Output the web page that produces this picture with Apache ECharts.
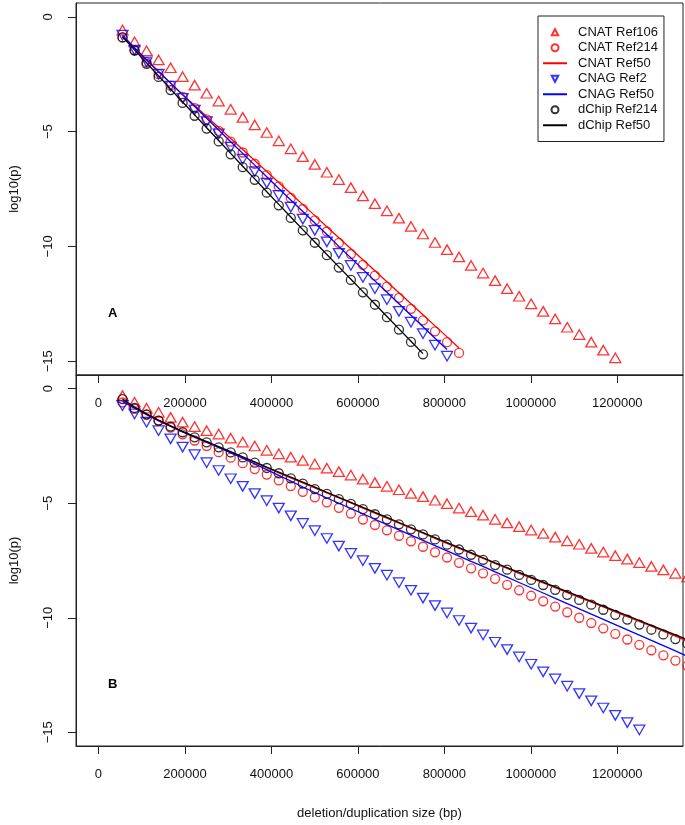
<!DOCTYPE html>
<html><head><meta charset="utf-8">
<script src="https://cdn.jsdelivr.net/npm/echarts@6/dist/echarts.min.js"></script>
<style>html,body{margin:0;padding:0;background:#fff}#c{width:685px;height:825px}</style>
</head><body><div id="c"></div><script>
// deletion/duplication sizes (bp)
const sizes = [55600, 83400, 111200, 139000, 166800, 194600, 222400, 250200, 278000, 305800,
  333600, 361400, 389200, 417000, 444800, 472600, 500400, 528200, 556000, 583800,
  611600, 639400, 667200, 695000, 722800, 750600, 778400, 806200, 834000, 861800,
  889600, 917400, 945200, 973000, 1000800, 1028600, 1056400, 1084200, 1112000, 1139800,
  1167600, 1195400, 1223200, 1251000, 1278800, 1306600, 1334400, 1362200];

const legendNames = ['CNAT Ref106', 'CNAT Ref214', 'CNAT Ref50', 'CNAG Ref2', 'CNAG Ref50', 'dChip Ref214', 'dChip Ref50'];
const xTicks = [0, 200000, 400000, 600000, 800000, 1000000, 1200000];
const yTicks = [0, -5, -10, -15];
const xTitle = 'deletion/duplication size (bp)';
const yTitle = 'log10(p)';
const panelLabels = ['A', 'B'];

// Panel A: log10(p)
const A_cnat106 = [-0.58,-1.09,-1.48,-1.88,-2.22,-2.61,-2.98,-3.33,-3.67,-4.03,-4.38,-4.71,-5.04,-5.4,-5.75,-6.09,-6.43,-6.77,-7.09,-7.44,-7.8,-8.14,-8.45,-8.77,-9.13,-9.46,-9.83,-10.14,-10.46,-10.83,-11.16,-11.49,-11.84,-12.17,-12.5,-12.83,-13.16,-13.52,-13.84,-14.17,-14.52,-14.85];
const A_cnat214 = [-0.9,-1.45,-1.98,-2.5,-3.0,-3.49,-3.98,-4.47,-4.97,-5.44,-5.91,-6.4,-6.9,-7.39,-7.89,-8.37,-8.87,-9.35,-9.85,-10.33,-10.8,-11.27,-11.75,-12.24,-12.72,-13.22,-13.7,-14.17,-14.64];
const A_cnat50 = [-0.85,-1.4,-1.9,-2.4,-2.89,-3.38,-3.86,-4.34,-4.82,-5.3,-5.78,-6.26,-6.74,-7.22,-7.7,-8.18,-8.66,-9.14,-9.62,-10.1,-10.58,-11.06,-11.54,-12.02,-12.5,-12.98,-13.46,-13.94,-14.42];
const A_cnag2 = [-0.8,-1.45,-1.96,-2.5,-3.02,-3.55,-4.06,-4.57,-5.1,-5.68,-6.2,-6.74,-7.24,-7.78,-8.29,-8.81,-9.3,-9.8,-10.3,-10.83,-11.35,-11.84,-12.32,-12.83,-13.3,-13.8,-14.3,-14.78];
const A_cnag50 = [-0.8,-1.35,-1.87,-2.38,-2.89,-3.4,-3.91,-4.42,-4.93,-5.44,-5.95,-6.46,-6.97,-7.48,-7.98,-8.48,-8.98,-9.48,-10.0,-10.5,-11.0,-11.5,-12.0,-12.5,-13.0,-13.5,-14.0,-14.49];
const A_dchip214 = [-0.9,-1.47,-2.05,-2.62,-3.19,-3.75,-4.31,-4.87,-5.43,-5.99,-6.55,-7.1,-7.66,-8.21,-8.76,-9.3,-9.84,-10.38,-10.92,-11.46,-12.0,-12.54,-13.08,-13.62,-14.16,-14.7];
const A_dchip50 = [-0.87,-1.44,-2.01,-2.58,-3.15,-3.71,-4.27,-4.83,-5.39,-5.95,-6.51,-7.06,-7.62,-8.17,-8.72,-9.27,-9.81,-10.35,-10.89,-11.43,-11.97,-12.51,-13.05,-13.59,-14.13,-14.67];

// Panel B: log10(p)
const B_cnat106 = [-0.3,-0.59,-0.85,-1.03,-1.25,-1.46,-1.65,-1.83,-1.98,-2.16,-2.33,-2.5,-2.69,-2.84,-2.99,-3.13,-3.29,-3.47,-3.62,-3.77,-3.95,-4.1,-4.26,-4.41,-4.57,-4.71,-4.87,-5.02,-5.21,-5.37,-5.52,-5.7,-5.86,-6.02,-6.17,-6.32,-6.48,-6.64,-6.79,-6.97,-7.13,-7.29,-7.44,-7.59,-7.76,-7.91,-8.06,-8.22];
const B_cnat214 = [-0.6,-0.88,-1.12,-1.39,-1.7,-1.99,-2.26,-2.5,-2.77,-3.01,-3.25,-3.51,-3.75,-4.0,-4.25,-4.5,-4.74,-4.96,-5.2,-5.45,-5.71,-5.95,-6.18,-6.42,-6.66,-6.9,-7.14,-7.37,-7.6,-7.84,-8.06,-8.3,-8.56,-8.8,-9.04,-9.28,-9.51,-9.76,-10.0,-10.23,-10.46,-10.7,-10.95,-11.18,-11.42,-11.64,-11.87,-12.1];
const B_cnat50 = [-0.5,-0.83,-1.13,-1.4,-1.65,-1.89,-2.12,-2.34,-2.56,-2.78,-3.0,-3.22,-3.45,-3.67,-3.89,-4.11,-4.33,-4.55,-4.77,-4.99,-5.21,-5.43,-5.65,-5.87,-6.09,-6.31,-6.53,-6.75,-6.97,-7.19,-7.41,-7.63,-7.85,-8.06,-8.27,-8.48,-8.69,-8.9,-9.11,-9.32,-9.53,-9.74,-9.95,-10.16,-10.37,-10.58,-10.8,-11.02];
const B_cnag2 = [-0.74,-1.1,-1.46,-1.83,-2.19,-2.55,-2.88,-3.23,-3.57,-3.93,-4.26,-4.58,-4.89,-5.21,-5.55,-5.88,-6.2,-6.54,-6.87,-7.19,-7.51,-7.84,-8.14,-8.47,-8.8,-9.14,-9.47,-9.79,-10.12,-10.45,-10.75,-11.07,-11.39,-11.71,-12.03,-12.36,-12.67,-12.99,-13.31,-13.63,-13.94,-14.26,-14.58,-14.9];
const B_cnag50 = [-0.55,-0.85,-1.12,-1.38,-1.63,-1.88,-2.1,-2.33,-2.56,-2.8,-3.03,-3.28,-3.53,-3.78,-4.03,-4.29,-4.53,-4.77,-5.0,-5.23,-5.46,-5.7,-5.93,-6.16,-6.39,-6.62,-6.85,-7.08,-7.31,-7.54,-7.76,-8.0,-8.23,-8.46,-8.69,-8.92,-9.15,-9.38,-9.61,-9.84,-10.07,-10.3,-10.53,-10.76,-10.99,-11.22,-11.45,-11.68];
const B_dchip214 = [-0.45,-0.84,-1.13,-1.39,-1.65,-1.9,-2.12,-2.34,-2.56,-2.78,-3.0,-3.23,-3.46,-3.69,-3.91,-4.14,-4.38,-4.59,-4.82,-5.03,-5.26,-5.48,-5.7,-5.92,-6.14,-6.36,-6.58,-6.81,-7.02,-7.25,-7.47,-7.7,-7.9,-8.13,-8.35,-8.57,-8.78,-9.0,-9.22,-9.43,-9.65,-9.87,-10.08,-10.3,-10.52,-10.73,-10.93,-11.13];
const B_dchip50 = [-0.45,-0.8,-1.1,-1.37,-1.62,-1.86,-2.09,-2.31,-2.53,-2.75,-2.97,-3.19,-3.42,-3.64,-3.86,-4.08,-4.3,-4.52,-4.74,-4.96,-5.18,-5.4,-5.62,-5.84,-6.06,-6.28,-6.5,-6.72,-6.94,-7.16,-7.38,-7.6,-7.81,-8.02,-8.23,-8.44,-8.65,-8.86,-9.07,-9.28,-9.49,-9.7,-9.91,-10.12,-10.33,-10.54,-10.75,-10.96];

const FONT = '"Liberation Sans", Arial, Helvetica, sans-serif';
const RED = '#ff0000', BLUE = '#0000ff', BLACK = '#000000';
const TRI_UP = 'path://M5,0L10,8.66L0,8.66Z';
const TRI_DN = 'path://M0,0L10,0L5,8.66Z';
// legend icons: small triangle centred in a 24x8 box
const LEG_UP = 'path://M0,0M24,8M12,0.5L15.7,7.5L8.3,7.5Z';
const LEG_DN = 'path://M0,0M24,8M8.3,0.5L15.7,0.5L12,7.5Z';
const chart = echarts.init(document.getElementById('c'), null, {renderer: 'canvas'});
const pairs = vals => vals.map((v, i) => [sizes[i], v]);
const minus = v => String(v).replace('-', '\u2212');

function mkX(g, withName) {
  return {
    type: 'value', gridIndex: g, min: -52000, max: 1352000,
    axisLine: {show: true, onZero: false, lineStyle: {color: '#222', width: 1}},
    axisTick: {show: true, length: 8, customValues: xTicks, lineStyle: {color: '#222', width: 1}},
    axisLabel: {show: true, customValues: xTicks, margin: 22, fontSize: 13, color: '#111', fontFamily: FONT,
      formatter: v => String(Math.round(v))},
    splitLine: {show: false},
    name: withName ? xTitle : '', nameLocation: 'middle', nameGap: 61,
    nameTextStyle: {fontSize: 13, color: '#111', fontFamily: FONT}
  };
}
function mkY(g) {
  return {
    type: 'value', gridIndex: g, min: -15.6, max: 0.6,
    axisLine: {show: true, onZero: false, lineStyle: {color: '#222', width: 1}},
    axisTick: {show: true, length: 8, customValues: yTicks, lineStyle: {color: '#222', width: 1}},
    axisLabel: {show: true, customValues: yTicks, rotate: 90, margin: 21, fontSize: 13, color: '#111', fontFamily: FONT, formatter: minus},
    splitLine: {show: false},
    name: yTitle, nameLocation: 'middle', nameRotate: 90, nameGap: 55,
    nameTextStyle: {fontSize: 13, color: '#111', fontFamily: FONT}
  };
}
function pts(name, g, vals, color, symbol, size) {
  return {
    name, type: 'scatter', xAxisIndex: g, yAxisIndex: g, data: pairs(vals),
    symbol, symbolSize: size, symbolKeepAspect: false, clip: g === 0,
    itemStyle: {color: 'rgba(255,255,255,0)', borderColor: color, borderWidth: 1.3},
    emphasis: {disabled: true}, animation: false
  };
}
function ln(name, g, vals, color) {
  return {
    name, type: 'line', xAxisIndex: g, yAxisIndex: g, data: pairs(vals),
    symbol: 'none', lineStyle: {color, width: 1.3}, itemStyle: {color},
    emphasis: {disabled: true}, animation: false
  };
}
const TRI = [11, 9.5], CIR = 9;
const series = [];
[[0, [A_cnat106, A_cnat214, A_cnat50, A_cnag2, A_cnag50, A_dchip214, A_dchip50]],
 [1, [B_cnat106, B_cnat214, B_cnat50, B_cnag2, B_cnag50, B_dchip214, B_dchip50]]].forEach(([g, d]) => {
  series.push(pts(legendNames[0], g, d[0], RED, TRI_UP, TRI));
  series.push(pts(legendNames[1], g, d[1], RED, 'circle', CIR));
  series.push(ln(legendNames[2], g, d[2], RED));
  series.push(pts(legendNames[3], g, d[3], BLUE, TRI_DN, TRI));
  series.push(ln(legendNames[4], g, d[4], BLUE));
  series.push(pts(legendNames[5], g, d[5], BLACK, 'circle', CIR));
  series.push(ln(legendNames[6], g, d[6], BLACK));
});

const hideDot = {color: 'rgba(0,0,0,0)', borderColor: 'rgba(0,0,0,0)', borderWidth: 0, opacity: 0};
const legendData = [
  {name: legendNames[0], icon: LEG_UP},
  {name: legendNames[1]},
  {name: legendNames[2], itemStyle: hideDot},
  {name: legendNames[3], icon: LEG_DN},
  {name: legendNames[4], itemStyle: hideDot},
  {name: legendNames[5]},
  {name: legendNames[6], itemStyle: hideDot}
];

chart.setOption({
  backgroundColor: '#fff',
  animation: false,
  textStyle: {fontFamily: FONT},
  grid: [
    {left: 74, top: 3, width: 609, height: 372, show: true, borderColor: '#222', borderWidth: 1, containLabel: false},
    {left: 74, top: 375, width: 609, height: 371, show: true, borderColor: '#222', borderWidth: 1, containLabel: false}
  ],
  xAxis: [mkX(0, false), mkX(1, true)],
  yAxis: [mkY(0), mkY(1)],
  legend: {
    data: legendData, orient: 'vertical', left: 538, top: 16,
    padding: [9, 6, 9, 4], itemGap: 1, itemWidth: 24, itemHeight: 7,
    borderColor: '#222', borderWidth: 1, backgroundColor: '#fff', borderRadius: 0,
    selectedMode: false,
    textStyle: {fontSize: 13, fontFamily: FONT, color: '#111', lineHeight: 14.5, padding: [0, 0, 0, 6]}
  },
  series
});

const gA = chart.convertToPixel({gridIndex: 0}, [33000, -12.9]);
const gB = chart.convertToPixel({gridIndex: 1}, [33000, -12.9]);
chart.setOption({
  graphic: [gA, gB].map((p, k) => ({
    type: 'text', x: p[0], y: p[1], silent: true,
    style: {text: panelLabels[k], font: 'bold 13px ' + FONT, fill: '#000', align: 'center', verticalAlign: 'middle'}
  }))
});
</script></body></html>
